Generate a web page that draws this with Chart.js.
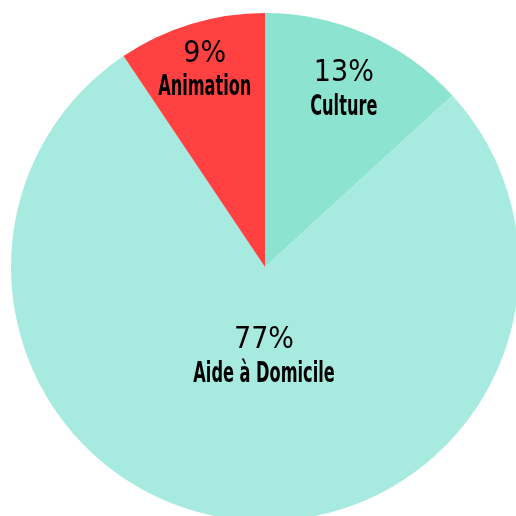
<!DOCTYPE html>
<html>
<head>
<meta charset="utf-8">
<script src="https://cdn.jsdelivr.net/npm/chart.js@4"></script>
<style>
  html, body { margin: 0; padding: 0; background: #fff; overflow: hidden; width: 516px; height: 516px; }
  #wrap { position: absolute; left: 11px; top: 13px; width: 508px; height: 508px; }
</style>
</head>
<body>
<div id="wrap"><canvas id="pieChart"></canvas></div>
<script>
// Share per activity (starting at the top, clockwise)
const categories = ['Culture', 'Aide à Domicile', 'Animation'];
const shares = [13.2, 77.4, 9.4];
const colors = ['#8ce3d0', '#a7eadf', '#ff4141'];

// how far out (fraction of radius) each label sits
const labelRadius = [0.77, 0.35, 0.815];

// draws "xx%" and the category name inside each slice
const sliceLabels = {
    id: 'sliceLabels',
    afterDatasetsDraw(chart) {
        const ctx = chart.ctx;
        const meta = chart.getDatasetMeta(0);
        meta.data.forEach((arc, i) => {
            const mid = (arc.startAngle + arc.endAngle) / 2;
            const r = arc.outerRadius * labelRadius[i];
            // big slice label sits almost straight under the centre
            const x = i === 1 ? arc.x - 1 : arc.x + Math.cos(mid) * r;
            const y = arc.y + Math.sin(mid) * r;
            ctx.save();
            ctx.fillStyle = '#000';
            ctx.textAlign = 'center';
            ctx.textBaseline = 'middle';
            ctx.translate(x, y);

            ctx.save();
            ctx.scale(0.9, 1);
            ctx.font = '30px "DejaVu Sans"';
            ctx.fillText(Math.round(shares[i]) + '%', 0, -15);
            ctx.restore();

            // condensed look for the category names
            ctx.scale(0.62, 1);
            ctx.font = 'bold 29px "DejaVu Sans Condensed", "DejaVu Sans", sans-serif';
            ctx.fillText(categories[i], 0, 19);
            ctx.restore();
        });
    }
};

const ctx = document.getElementById('pieChart').getContext('2d');
const myChart = new Chart(ctx, {
    type: 'pie',
    data: {
        labels: categories,
        datasets: [{
            data: shares,
            backgroundColor: colors,
            borderWidth: 0
        }]
    },
    options: {
        animation: false,
        responsive: true,
        maintainAspectRatio: false,
        layout: { padding: 0 },
        plugins: {
            legend: { display: false },
            tooltip: { enabled: false }
        }
    },
    plugins: [sliceLabels]
});
</script>
</body>
</html>
